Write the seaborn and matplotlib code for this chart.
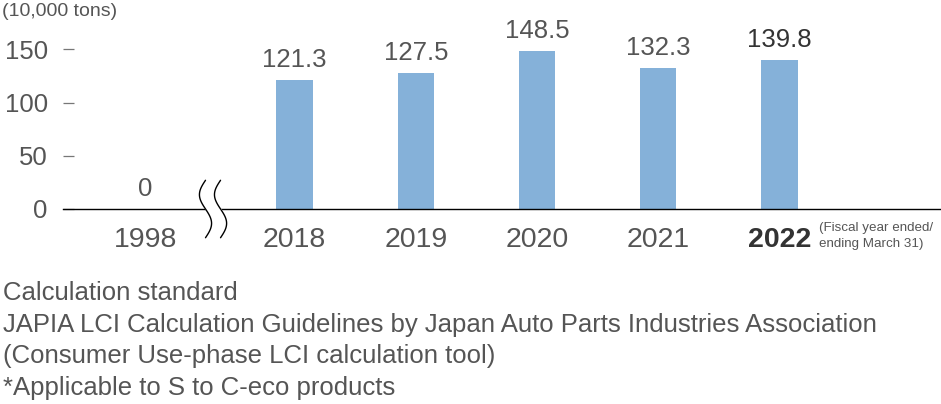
import numpy as np
import matplotlib
matplotlib.use("Agg")
import matplotlib.pyplot as plt
import seaborn as sns

# Data
years = ["1998", "2018", "2019", "2020", "2021", "2022"]
amounts = [0, 121.3, 127.5, 148.5, 132.3, 139.8]
y_ticks = [0, 50, 100, 150]
unit_label = "(10,000 tons)"
fiscal_note = "(Fiscal year ended/\nending March 31)"
footnotes = [
    "Calculation standard",
    "JAPIA LCI Calculation Guidelines by Japan Auto Parts Industries Association",
    "(Consumer Use-phase LCI calculation tool)",
    "*Applicable to S to C-eco products",
]

# Layout: 1998 sits to the left of an axis break
x_pos = [-1.23] + list(range(len(years) - 1))
break_x = -0.672

bar_color = "#85b1d9"
text_color = "#555555"
dark_text = "#333333"

sns.set_style("white")
plt.rcParams["font.family"] = ["Liberation Sans", "DejaVu Sans"]

W, H = 941, 404
fig = plt.figure(figsize=(W / 100, H / 100), dpi=100)
ax = fig.add_axes([63 / W, 1 - 209 / H, 1 - 63 / W, 209 / H])

sns.barplot(x=x_pos, y=amounts, native_scale=True, orient="x", width=0.297,
            color=bar_color, saturation=1, linewidth=0, ax=ax)

ax.set_xlim((63 - 294.5) / 121.25, (W - 294.5) / 121.25)
ax.set_ylim(0, 209 / 1.064)

for side in ["top", "right", "left"]:
    ax.spines[side].set_visible(False)
ax.spines["bottom"].set_color("black")
ax.spines["bottom"].set_linewidth(1.0)

# y axis (short dashes beside the labels)
ax.set_yticks(y_ticks)
ax.set_yticklabels([str(t) for t in y_ticks], fontsize=18.5, color=text_color)
ax.tick_params(axis="y", left=True, direction="in", length=8, width=0.9,
               color="#777777", pad=11)

# x axis
ax.set_xticks(x_pos)
ax.set_xticklabels(years, fontsize=20.5, color=text_color)
ax.tick_params(axis="x", bottom=False, length=0, pad=13)
last = ax.get_xticklabels()[-1]
last.set_fontweight("bold")
last.set_color(dark_text)
ax.set_xlabel("")
ax.set_ylabel("")

# value labels
for i, (xp, v) in enumerate(zip(x_pos, amounts)):
    col = dark_text if i == len(amounts) - 1 else text_color
    ax.annotate(f"{v:g}", (xp, v), xytext=(0, 6), textcoords="offset points",
                ha="center", va="bottom", fontsize=18.5, color=col)

# axis break symbol (two wavy lines with a gap)
yy = np.linspace(-27, 27, 100)
wave = 0.05 * np.sin(np.pi * (27 - yy) / 27)
left_curve = break_x - 0.062 - wave
right_curve = break_x + 0.062 - wave
ax.fill_betweenx(yy, left_curve, right_curve, color="white", zorder=5, clip_on=False)
ax.plot(left_curve, yy, color="black", lw=1, zorder=6, clip_on=False)
ax.plot(right_curve, yy, color="black", lw=1, zorder=6, clip_on=False)

# texts
fig.text(2 / W, 1 - 12 / H, unit_label, fontsize=14, color=text_color, va="center", ha="left")
fig.text(819 / W, 1 - 222 / H, fiscal_note, fontsize=9.6, color=text_color, va="top",
         ha="left", linespacing=1.45)
for k, line in enumerate(footnotes):
    fig.text(3 / W, 1 - (293 + k * 31.7) / H, line, fontsize=18.5, color=text_color,
             va="center", ha="left")

fig.savefig("out.png", dpi=100)
